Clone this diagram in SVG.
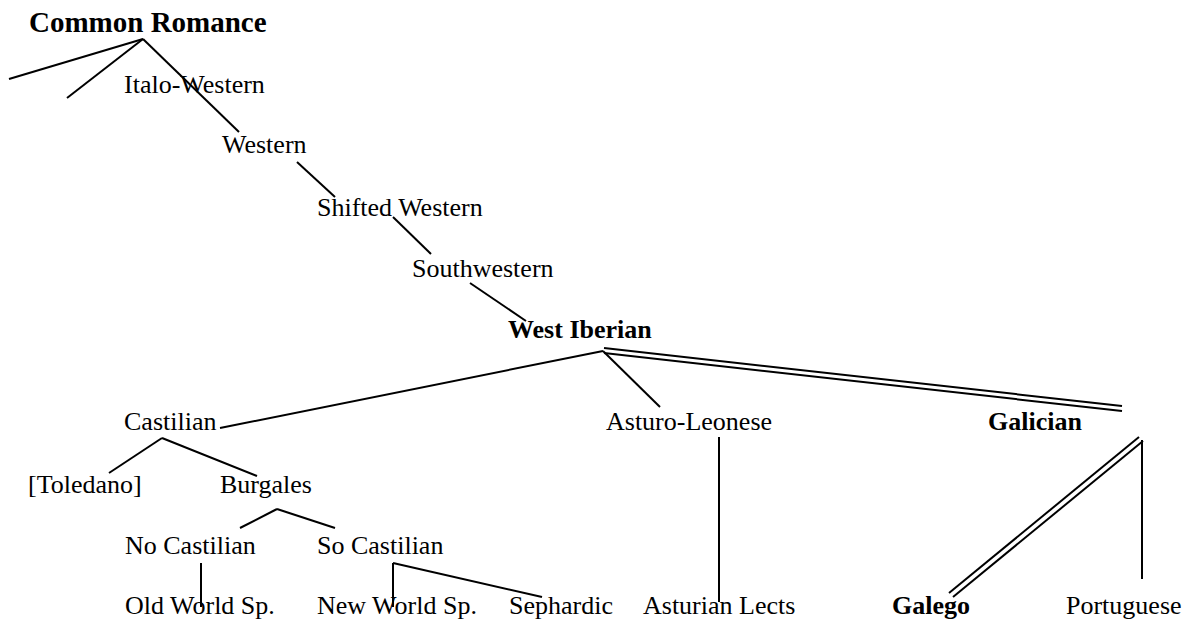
<svg xmlns="http://www.w3.org/2000/svg" width="1186" height="620" viewBox="0 0 1186 620">
<style>
text{font-family:"Liberation Serif","Times New Roman",serif;font-size:26px;fill:#000}
.b{font-weight:bold}
.big{font-size:29px}
line{stroke:#000;stroke-width:2;stroke-linecap:butt}
</style>
<rect width="1186" height="620" fill="#fff"/>
<g id="connectors">
<line x1="143" y1="39" x2="9" y2="79"/>
<line x1="143" y1="39" x2="67" y2="98"/>
<line x1="143" y1="39" x2="239" y2="132"/>
<line x1="297" y1="162" x2="335" y2="197"/>
<line x1="393" y1="217" x2="431" y2="254"/>
<line x1="470" y1="283" x2="526" y2="321"/>
<line x1="603" y1="351" x2="220" y2="428"/>
<line x1="603" y1="351" x2="660" y2="407"/>
<line x1="604" y1="348" x2="1122" y2="406"/>
<line x1="604" y1="353" x2="1122" y2="411"/>
<line x1="719" y1="437" x2="719" y2="602"/>
<line x1="1139" y1="437" x2="949" y2="593"/>
<line x1="1143" y1="441" x2="953" y2="597"/>
<line x1="1142" y1="440" x2="1142" y2="579"/>
<line x1="162" y1="438" x2="109" y2="473"/>
<line x1="162" y1="438" x2="257" y2="476"/>
<line x1="277" y1="509" x2="240" y2="528"/>
<line x1="277" y1="509" x2="335" y2="528"/>
<line x1="201" y1="563" x2="201" y2="607"/>
<line x1="393" y1="563" x2="393" y2="607"/>
<line x1="393" y1="563" x2="542" y2="597"/>
</g>
<g id="n-common-romance"><text class="b big" x="29" y="32">Common Romance</text></g>
<g id="n-italo-western"><text x="124" y="93">Italo-Western</text></g>
<g id="n-western"><text x="222" y="153">Western</text></g>
<g id="n-shifted-western"><text x="317" y="216">Shifted Western</text></g>
<g id="n-southwestern"><text x="412" y="277">Southwestern</text></g>
<g id="n-west-iberian"><text class="b" x="508" y="338">West Iberian</text></g>
<g id="n-castilian"><text x="124" y="430">Castilian</text></g>
<g id="n-asturo-leonese"><text x="606" y="430">Asturo-Leonese</text></g>
<g id="n-galician"><text class="b" x="988" y="430">Galician</text></g>
<g id="n-toledano"><text x="28" y="493">[Toledano]</text></g>
<g id="n-burgales"><text x="220" y="493">Burgales</text></g>
<g id="n-no-castilian"><text x="125" y="554">No Castilian</text></g>
<g id="n-so-castilian"><text x="317" y="554">So Castilian</text></g>
<g id="n-old-world"><text x="125" y="614">Old World Sp.</text></g>
<g id="n-new-world"><text x="317" y="614">New World Sp.</text></g>
<g id="n-sephardic"><text x="509" y="614">Sephardic</text></g>
<g id="n-asturian-lects"><text x="643" y="614">Asturian Lects</text></g>
<g id="n-galego"><text class="b" x="892" y="614">Galego</text></g>
<g id="n-portuguese"><text x="1066" y="614">Portuguese</text></g>
</svg>
